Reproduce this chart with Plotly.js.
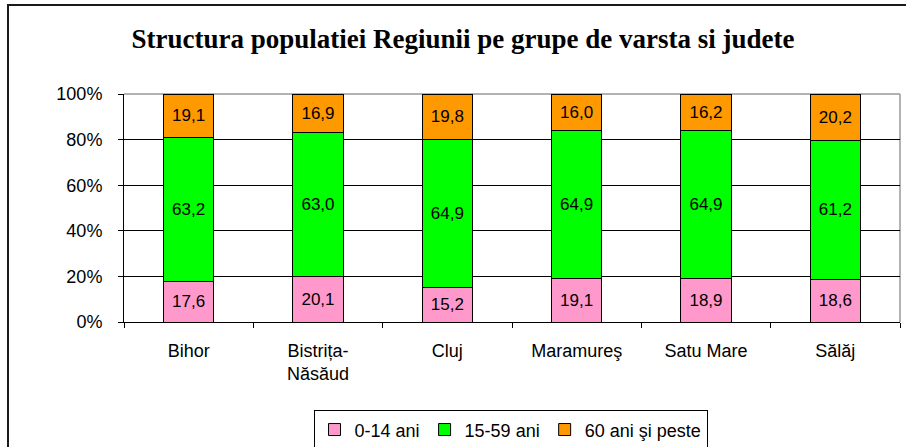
<!DOCTYPE html>
<html>
<head>
<meta charset="utf-8">
<script src="https://cdn.plot.ly/plotly-3.0.1.min.js"></script>
<style>
  html, body { margin: 0; padding: 0; background: #fff; }
  #wrap { position: relative; width: 906px; height: 447px; overflow: hidden; }
  #chart { position: absolute; left: 0; top: 0; width: 906px; height: 447px; }
  #frame { position: absolute; left: 7px; top: 4px; width: 920px; height: 460px;
           border: 2px solid #1a1a1a; pointer-events: none; box-sizing: border-box; }
</style>
</head>
<body>
<div id="wrap">
  <div id="chart"></div>
  <div id="frame"></div>
</div>
<script>
const categories = ["Bihor", "Bistrița-<br>Năsăud", "Cluj", "Maramureş", "Satu Mare", "Sălăj"];
const seriesNames = ["0-14 ani", "15-59 ani", "60 ani şi peste"];
const age0_14 = [17.6, 20.1, 15.2, 19.1, 18.9, 18.6];
const age15_59 = [63.2, 63.0, 64.9, 64.9, 64.9, 61.2];
const age60plus = [19.1, 16.9, 19.8, 16.0, 16.2, 20.2];
const yTickVals = [0, 20, 40, 60, 80, 100];
const yTickText = ["0%", "20%", "40%", "60%", "80%", "100%"];

const colors = ["#FF99CC", "#00FF00", "#FF9900"];
const fmt = v => v.toFixed(1).replace(".", ",");

const traces = [age0_14, age15_59, age60plus].map((vals, i) => ({
  type: "bar",
  name: seriesNames[i],
  x: categories,
  y: vals,
  text: vals.map(fmt),
  textposition: "inside",
  insidetextanchor: "middle",
  textangle: 0,
  textfont: { family: "Liberation Sans, Arial, sans-serif", size: 17, color: "#000" },
  constraintext: "none",
  marker: { color: colors[i], line: { color: "#000", width: 1 } },
  hoverinfo: "skip"
}));

const layout = {
  width: 906,
  height: 447,
  margin: { l: 124, r: 6, t: 94, b: 125, autoexpand: false },
  paper_bgcolor: "#fff",
  plot_bgcolor: "#fff",
  barmode: "stack",
  barnorm: "percent",
  bargap: 0.61,
  showlegend: true,
  title: {
    text: "<b>Structura populatiei Regiunii pe grupe de varsta si judete</b>",
    font: { family: "Liberation Serif, Times New Roman, serif", size: 27, color: "#000" },
    x: 0.511, xref: "container", xanchor: "center",
    y: 0.913, yref: "container", yanchor: "middle"
  },
  font: { family: "Liberation Sans, Arial, sans-serif", size: 18, color: "#000" },
  xaxis: {
    type: "category",
    automargin: false,
    showline: true, linecolor: "#000", linewidth: 1,
    ticks: "outside", ticklen: 5, tickcolor: "#000", tickson: "boundaries",
    ticklabelstandoff: 12,
    showgrid: false,
    tickfont: { size: 18, color: "#000" },
    fixedrange: true
  },
  yaxis: {
    automargin: false,
    range: [0, 100],
    tickvals: yTickVals,
    ticktext: yTickText,
    showline: true, linecolor: "#000", linewidth: 1,
    ticks: "outside", ticklen: 5, tickcolor: "#000",
    ticklabelstandoff: 12,
    showgrid: true, gridcolor: "#000", gridwidth: 1,
    zeroline: false,
    tickfont: { size: 18, color: "#000" },
    fixedrange: true
  },
  legend: {
    orientation: "h",
    xref: "container", yref: "container",
    x: 0.5635, xanchor: "center",
    y: 0.082, yanchor: "top",
    bordercolor: "#000", borderwidth: 1,
    font: { size: 18, color: "#000" },
    traceorder: "normal"
  },
  shapes: [
    { type: "line", xref: "paper", yref: "paper", x0: 0, x1: 1, y0: 1, y1: 1,
      line: { color: "#999", width: 1.5 }, layer: "between" },
    { type: "line", xref: "paper", yref: "paper", x0: 1, x1: 1, y0: 0, y1: 1,
      line: { color: "#999", width: 1.5 }, layer: "between" }
  ]
};

Plotly.newPlot("chart", traces, layout, { displayModeBar: false, staticPlot: true });
</script>
</body>
</html>
